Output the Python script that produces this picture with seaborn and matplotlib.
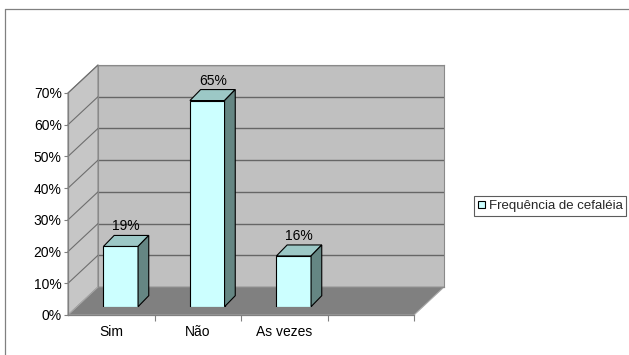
import matplotlib
matplotlib.use("Agg")
import matplotlib.pyplot as plt
import seaborn as sns
import numpy as np
from matplotlib.patches import Polygon
from matplotlib.lines import Line2D

# ---- data -------------------------------------------------------------
categories = ["Sim", "Não", "As vezes"]
values = [0.19, 0.65, 0.16]
value_labels = ["19%", "65%", "16%"]
y_ticks = [0.0, 0.1, 0.2, 0.3, 0.4, 0.5, 0.6, 0.7]
y_tick_labels = ["0%", "10%", "20%", "30%", "40%", "50%", "60%", "70%"]
series_name = "Frequência de cefaléia"

# ---- style ------------------------------------------------------------
sns.set_theme(style="white")
plt.rcParams["font.family"] = ["Liberation Sans", "DejaVu Sans"]
plt.rcParams["font.size"] = 10

W, H = 629, 355
fig = plt.figure(figsize=(W / 100, H / 100), dpi=100)
fig.patch.set_facecolor("white")


def fx(px):
    return px / W


def fy(py):
    return 1 - py / H


# outer chart frame
fig.add_artist(Line2D([fx(5), 1.0], [fy(9), fy(9)], color="#808080", lw=0.9,
                      transform=fig.transFigure))
fig.add_artist(Line2D([fx(5), fx(5)], [fy(9), 0.0], color="#808080", lw=0.9,
                      transform=fig.transFigure))

# front plane of the plot box (pixels)
X0, X1, Y0, YT = 68, 414, 315, 93
DEPTH = (30, 28)        # wall depth offset in pixels (right, up)
BAR_SHIFT = (9.5, 8.3)  # bar front face offset into the box
BAR_DEPTH = (10.7, 11)  # bar thickness offset

XLIM = (-0.5, 3.5)
YLIM = (0, 0.70)

# back wall
ax_back = fig.add_axes([fx(X0 + DEPTH[0]), fy(Y0 - DEPTH[1]),
                        (X1 - X0) / W, (Y0 - YT) / H], zorder=0)
ax_back.set_xlim(*XLIM)
ax_back.set_ylim(*YLIM)
ax_back.set_facecolor("#C0C0C0")
ax_back.set_xticks([])
ax_back.set_yticks(y_ticks)
ax_back.tick_params(left=False, labelleft=False)
ax_back.yaxis.grid(True, color="#666666", lw=1.0)
for s in ax_back.spines.values():
    s.set_color("#8A8A8A")
    s.set_linewidth(0.8)

# front axes carrying ticks and labels
ax = fig.add_axes([fx(X0), fy(Y0), (X1 - X0) / W, (Y0 - YT) / H], zorder=1)
ax.set_xlim(*XLIM)
ax.set_ylim(*YLIM)
ax.patch.set_alpha(0)

to_fig = fig.transFigure.inverted()


def front_pt(x, y, off=(0, 0)):
    d = ax.transData.transform((x, y))
    return to_fig.transform((d[0] + off[0], d[1] + off[1]))


# side wall and floor
side = [front_pt(XLIM[0], 0), front_pt(XLIM[0], 0, DEPTH),
        front_pt(XLIM[0], YLIM[1], DEPTH), front_pt(XLIM[0], YLIM[1])]
ax_back.add_patch(Polygon(side, closed=True, facecolor="#C6C6C6", edgecolor="#8A8A8A",
                          lw=0.8, transform=fig.transFigure, clip_on=False, zorder=0.5))
floor = [front_pt(XLIM[0], 0), front_pt(XLIM[1], 0),
         front_pt(XLIM[1], 0, DEPTH), front_pt(XLIM[0], 0, DEPTH)]
ax_back.add_patch(Polygon(floor, closed=True, facecolor="#808080", edgecolor="#A8A8A8",
                          lw=0.8, transform=fig.transFigure, clip_on=False, zorder=0.6))
for t in y_ticks[1:]:
    p0 = front_pt(XLIM[0], t)
    p1 = front_pt(XLIM[0], t, DEPTH)
    ax_back.add_line(Line2D([p0[0], p1[0]], [p0[1], p1[1]], color="#6E6E6E", lw=0.8,
                            transform=fig.transFigure, clip_on=False, zorder=0.7))

# front axes styling
for name, s in ax.spines.items():
    if name in ("left", "bottom"):
        s.set_color("#808080")
        s.set_linewidth(0.9)
    else:
        s.set_visible(False)
ax.set_yticks(y_ticks)
ax.set_yticklabels(y_tick_labels)
ax.tick_params(axis="y", left=True, length=3, width=0.8, color="#808080", pad=1.5,
               labelsize=10, labelcolor="black")
ax.set_xticks([0.5, 1.5, 2.5, 3.5])
ax.set_xticklabels([])
ax.tick_params(axis="x", bottom=True, length=4, width=0.8, color="#808080")
ax.set_xticks(range(len(categories)), minor=True)
ax.set_xticklabels(categories, minor=True)
ax.tick_params(axis="x", which="minor", length=0, pad=7, labelsize=10, labelcolor="black")

# bars
ax_bars = fig.add_axes([fx(X0 + BAR_SHIFT[0]), fy(Y0 - BAR_SHIFT[1]),
                        (X1 - X0) / W, (Y0 - YT) / H], zorder=2)
sns.barplot(x=categories, y=values, ax=ax_bars, color="#CCFFFF", saturation=1,
            edgecolor="black", linewidth=0.8, width=0.4, label=series_name)
ax_bars.set_xlim(*XLIM)
ax_bars.set_ylim(*YLIM)
ax_bars.patch.set_alpha(0)
ax_bars.set_axis_off()

to_fig_b = fig.transFigure.inverted()
for patch, lab in zip(list(ax_bars.patches), value_labels):
    x0 = patch.get_x()
    w = patch.get_width()
    h = patch.get_height()
    dl = ax_bars.transData.transform((x0, 0))
    dr = ax_bars.transData.transform((x0 + w, h))
    bx0, by0 = dl
    bx1, by1 = dr
    ddx, ddy = BAR_DEPTH
    top = [(bx0, by1), (bx1, by1), (bx1 + ddx, by1 + ddy), (bx0 + ddx, by1 + ddy)]
    sidef = [(bx1, by0), (bx1 + ddx, by0 + ddy), (bx1 + ddx, by1 + ddy), (bx1, by1)]
    ax_bars.add_patch(Polygon(to_fig_b.transform(top), closed=True, facecolor="#9CC8C6",
                              edgecolor="black", lw=0.8, transform=fig.transFigure,
                              clip_on=False))
    ax_bars.add_patch(Polygon(to_fig_b.transform(sidef), closed=True, facecolor="#658683",
                              edgecolor="black", lw=0.8, transform=fig.transFigure,
                              clip_on=False))
    ax_bars.annotate(lab, xy=(x0 + w / 2, h), xytext=(5.5, 20), textcoords="offset pixels",
                     ha="center", va="center", fontsize=10, color="black",
                     annotation_clip=False)

# legend
handles, labels = ax_bars.get_legend_handles_labels()
leg = ax_bars.legend(handles[:1], labels[:1], loc="center left",
                     bbox_to_anchor=(fx(474), fy(206)), bbox_transform=fig.transFigure,
                     frameon=True, fancybox=False, borderaxespad=0, borderpad=0.3,
                     handlelength=0.5, handleheight=0.5, handletextpad=0.3,
                     fontsize=9.5)
leg.get_frame().set_edgecolor("#333333")
leg.get_frame().set_linewidth(0.8)

fig.savefig("out.png", dpi=100, facecolor="white")
